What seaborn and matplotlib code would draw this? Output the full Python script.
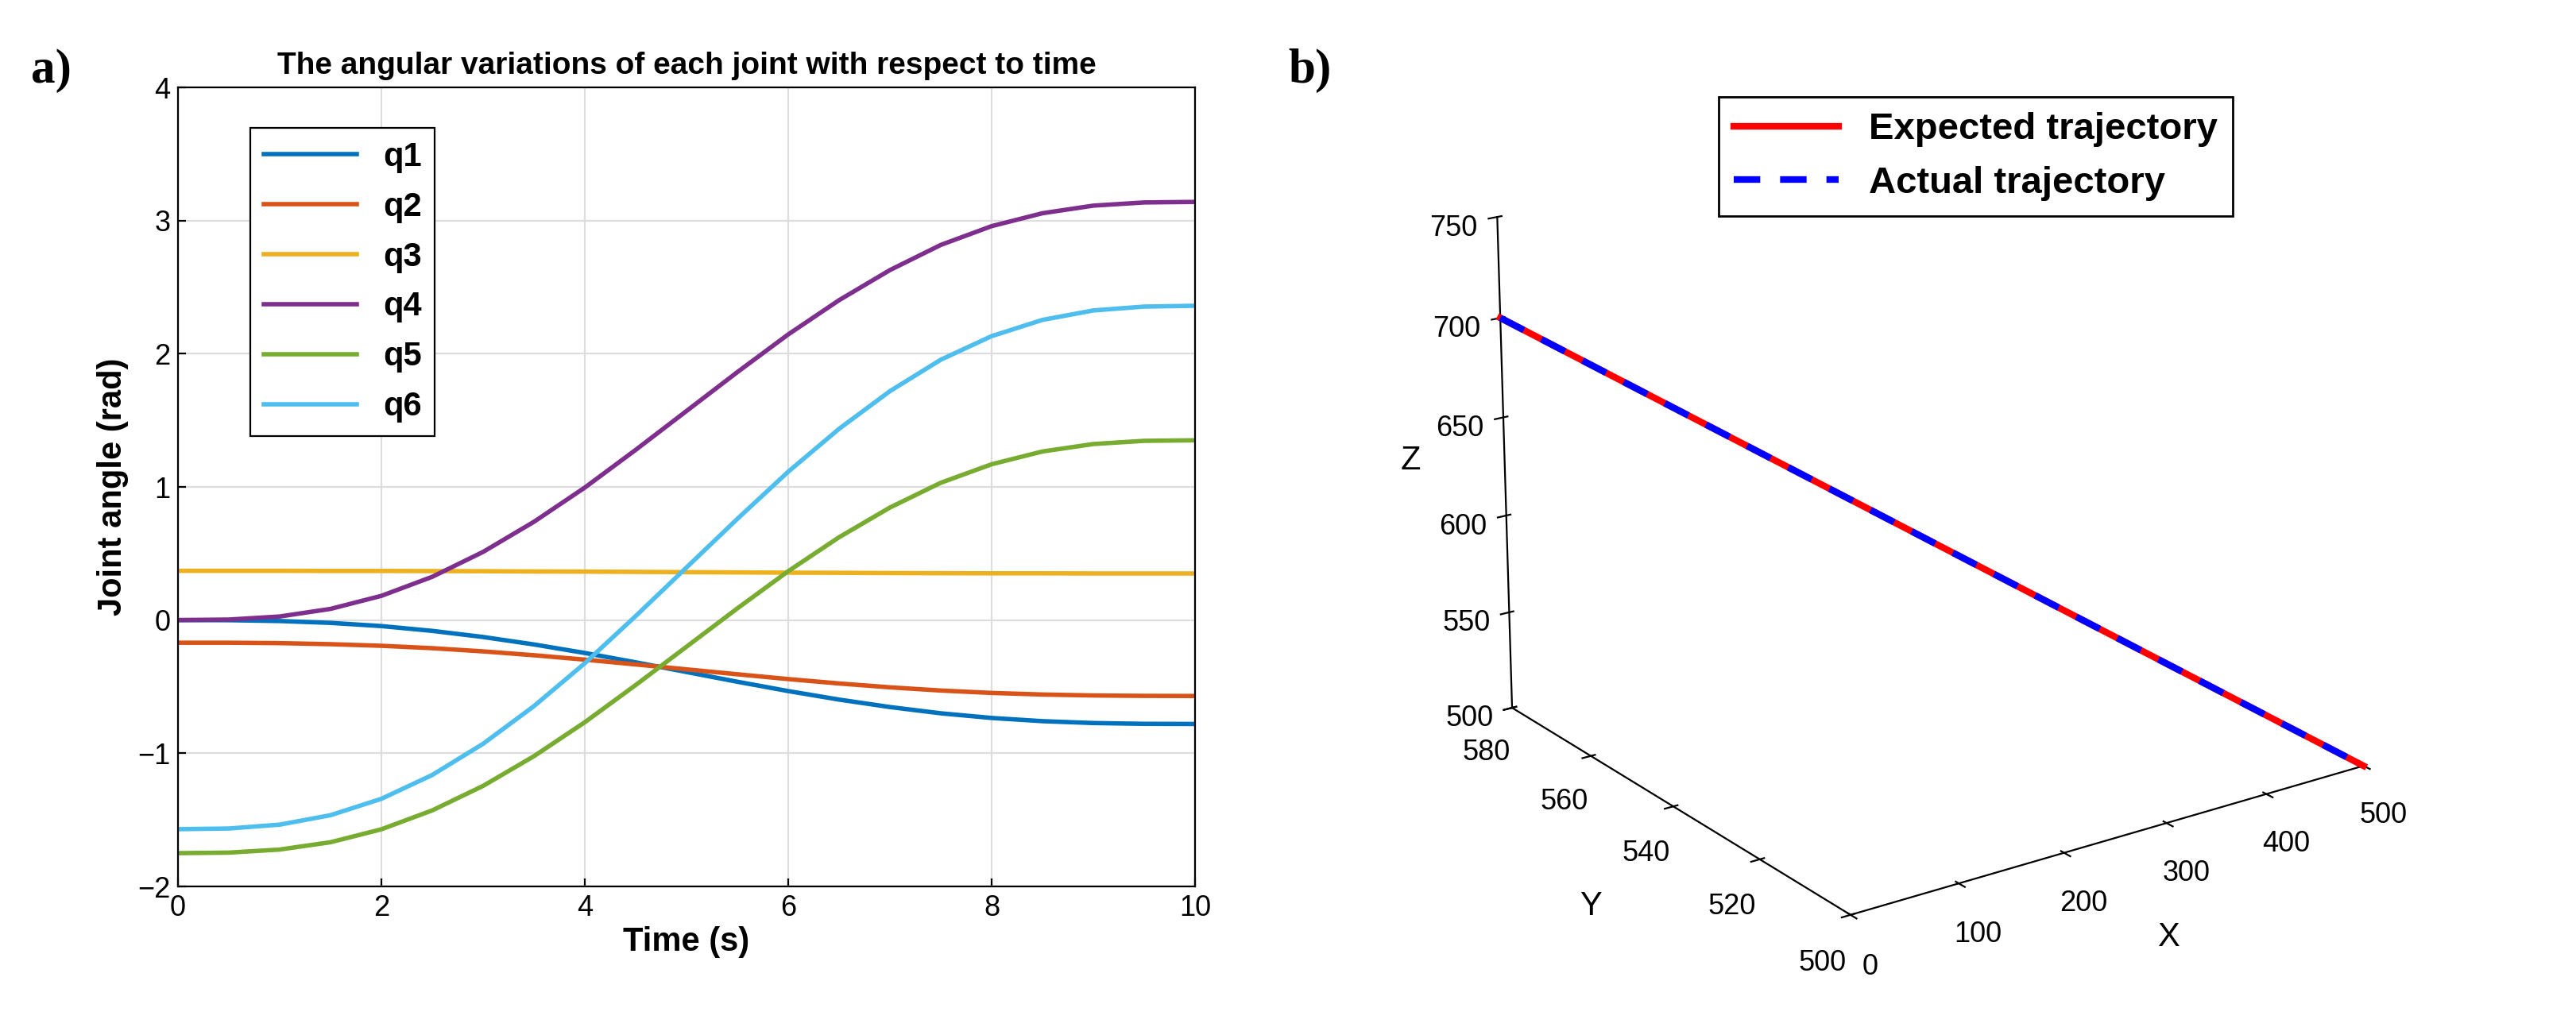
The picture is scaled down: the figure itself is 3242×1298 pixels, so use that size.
import numpy as np
import pandas as pd
import seaborn as sns
import matplotlib
matplotlib.use("Agg")
import matplotlib.pyplot as plt

plt.rcParams["font.family"] = "Liberation Sans"

t = [0,0.5,1,1.5,2,2.5,3,3.5,4,4.5,5,5.5,6,6.5,7,7.5,8,8.5,9,9.5,10]
q1 = [0,-0.001,-0.007,-0.021,-0.045,-0.081,-0.127,-0.183,-0.247,-0.317,-0.39,-0.463,-0.533,-0.597,-0.653,-0.7,-0.735,-0.759,-0.773,-0.779,-0.78]
q2 = [-0.17,-0.17,-0.173,-0.181,-0.193,-0.211,-0.235,-0.264,-0.297,-0.333,-0.37,-0.407,-0.443,-0.476,-0.505,-0.529,-0.547,-0.559,-0.566,-0.569,-0.57]
q3 = [0.37,0.37,0.37,0.369,0.369,0.368,0.367,0.365,0.364,0.362,0.36,0.358,0.356,0.355,0.353,0.352,0.351,0.351,0.350,0.350,0.35]
q4 = [0,0.004,0.027,0.084,0.182,0.325,0.512,0.738,0.995,1.278,1.57,1.862,2.145,2.402,2.628,2.817,2.958,3.055,3.112,3.136,3.14]
q5 = [-1.75,-1.746,-1.723,-1.668,-1.571,-1.429,-1.245,-1.022,-0.767,-0.488,-0.2,0.088,0.367,0.622,0.845,1.031,1.170,1.266,1.322,1.346,1.35]
q6 = [-1.57,-1.565,-1.536,-1.465,-1.342,-1.163,-0.929,-0.646,-0.324,0.03,0.395,0.76,1.114,1.436,1.719,1.955,2.132,2.254,2.325,2.354,2.36]
names = ["q1","q2","q3","q4","q5","q6"]
colors = ["#0072BD","#D95319","#EDB120","#7E2F8E","#77AC30","#4DBEEE"]

traj_x = [0, 500]
traj_y = [580, 500]
traj_z = [700, 500]

df = pd.concat([pd.DataFrame({"t": t, "q": v, "joint": n}) for n, v in zip(names, [q1,q2,q3,q4,q5,q6])])

fig = plt.figure(figsize=(16.21, 6.49), dpi=200)
ax = fig.add_axes([224/3242, 1-1116/1298, 1280/3242, 1006/1298])
sns.lineplot(data=df, x="t", y="q", hue="joint", palette=colors, linewidth=2, ax=ax)
ax.set_xlim(0, 10); ax.set_ylim(-2, 4)
ax.set_xticks(range(0, 11, 2)); ax.set_yticks(range(-2, 5))
ax.grid(True, color="#dddddd", linewidth=0.8)
ax.tick_params(labelsize=13, direction="in")
ax.set_xlabel("Time (s)", fontsize=15, fontweight="bold", labelpad=2)
ax.set_ylabel("Joint angle (rad)", fontsize=15, fontweight="bold")
ax.set_title("The angular variations of each joint with respect to time", fontsize=14, fontweight="bold")
leg = ax.legend(loc="upper left", bbox_to_anchor=(0.055, 0.97), prop={"weight": "bold", "size": 15},
                fancybox=False, edgecolor="black", framealpha=1, handlelength=2.8, labelspacing=0.55)
leg.get_frame().set_linewidth(0.8)
fig.text(0.012, 0.92, "a)", fontsize=22, fontweight="bold", family="Liberation Serif")
fig.text(0.5, 0.92, "b)", fontsize=22, fontweight="bold", family="Liberation Serif")

ax3 = fig.add_axes([0.495, 0.05, 0.5, 0.92], projection="3d")
ax3.plot(traj_x, traj_y, traj_z, color="red", linewidth=3, label="Expected trajectory")
ax3.plot(traj_x, traj_y, traj_z, color="blue", linewidth=3, linestyle=(0, (4, 3)), label="Actual trajectory")
ax3.set_xlim(0, 500); ax3.set_ylim(500, 580); ax3.set_zlim(500, 750)
ax3.set_xticks([0,100,200,300,400,500]); ax3.set_yticks([500,520,540,560,580]); ax3.set_zticks([500,550,600,650,700,750])
ax3.view_init(elev=20, azim=-125)
ax3.set_box_aspect((1.0, 1.0, 0.85), zoom=1.05)
for a in (ax3.xaxis, ax3.yaxis, ax3.zaxis):
    a.pane.fill = False
    a.pane.set_edgecolor("none")
    a.label.set_size(15)
ax3.grid(False)
ax3.tick_params(labelsize=13)
ax3.set_xlabel("X", labelpad=10); ax3.set_ylabel("Y", labelpad=14); ax3.set_zlabel("Z")
l3 = ax3.legend(loc="upper right", bbox_to_anchor=(0.85, 0.95), prop={"weight": "bold", "size": 17},
                fancybox=False, edgecolor="black", framealpha=1, handlelength=2.8)
fig.savefig("out.png", dpi=200)
